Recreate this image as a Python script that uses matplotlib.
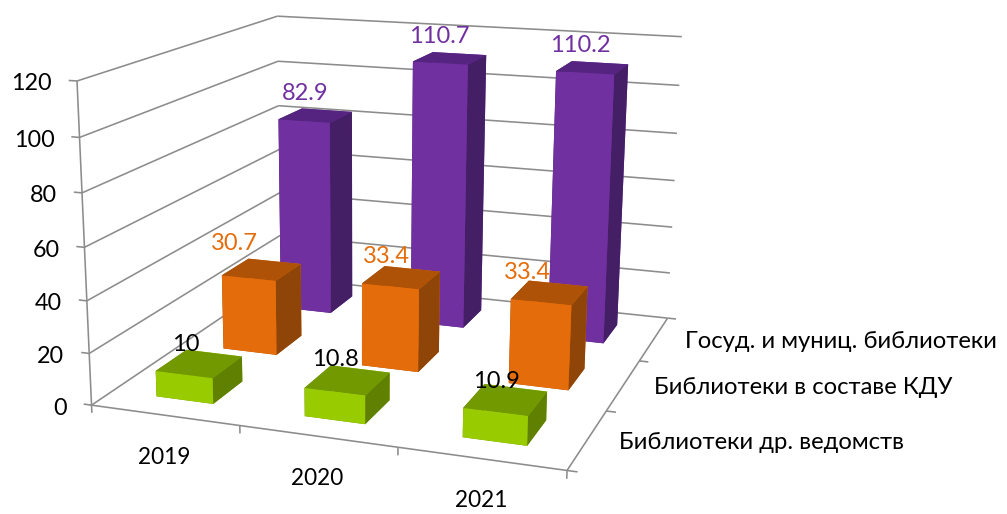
import numpy as np
import matplotlib
matplotlib.use('Agg')
import matplotlib.pyplot as plt
from mpl_toolkits.mplot3d.art3d import Line3DCollection

W, H = 1007, 514

years = ['2019', '2020', '2021']
series = ['Библиотеки др. ведомств', 'Библиотеки в составе КДУ', 'Госуд. и муниц. библиотеки']
values_other = [10, 10.8, 10.9]
values_kdu = [30.7, 33.4, 33.4]
values_gos = [82.9, 110.7, 110.2]
value_ticks = [0, 20, 40, 60, 80, 100, 120]
value_labels = ['10', '10.8', '10.9', '30.7', '33.4', '33.4', '82.9', '110.7', '110.2']

all_values = [values_other, values_kdu, values_gos]

# label colour and bar colours (front, top, side) per series
label_colors = ['black', '#E46C0A', '#7030A0']
bar_colors = [('#99CC00', '#739900', '#5F8000'),
              ('#E46C0A', '#AD5207', '#8F4507'),
              ('#7030A0', '#552480', '#451F66')]
grid_color = '#8C8C8C'

# Offsets of the value labels from the bar top, in pixels
label_shift = [[(-14, -19), (-12, -21), (-9, -18)],
               [(-27, -26), (-15, -21), (-22, -20)],
               [(-10, -22), (-11, -22), (-12, -22)]]

plt.rcParams['font.family'] = ['Lato', 'Noto Sans', 'DejaVu Sans']


# Fit the camera of the 3D chart from where its box sits in the picture
def fit_camera():
    box = np.array([[0, 0, 0], [3, 0, 0], [3, 3, 0], [0, 3, 0], [0, 0, 120], [0, 3, 120], [3, 3, 120],
                     [1, 0, 0], [2, 0, 0], [3, 1, 0], [3, 2, 0], [0, 0, 60]], dtype=float)
    pix = np.array([[92, 406], [567, 470], [667, 319], [281, 277], [77, 81], [277, 16], [682, 37],
                    [239, 426], [397, 447], [607, 411], [640, 360], [85, 247]], dtype=float)
    scale = np.diag([1 / 3, 1 / 3, 1 / 120, 1])
    rows = []
    for p, q in zip(box, pix):
        v = scale @ np.append(p, 1)
        rows.append(np.concatenate([v, np.zeros(4), -q[0] * v]))
        rows.append(np.concatenate([np.zeros(4), v, -q[1] * v]))
    _, _, vt = np.linalg.svd(np.array(rows))
    P = vt[-1].reshape(3, 4) @ scale
    if P[2, 3] < 0:
        P = -P
    return P / P[2, 3]


P = fit_camera()
M = np.vstack([P[0], P[1], [0, 0, 0, -1], P[2]])


def project(x, y, z):
    p = P @ np.array([x, y, z, 1.0])
    return p[0] / p[2], p[1] / p[2]


fig = plt.figure(figsize=(W / 100, H / 100), dpi=100)
side = W / H
ax = fig.add_axes([0, (1 - side) / 2, 1, side], projection='3d', computed_zorder=False)
ax.set_axis_off()
ax.get_proj = lambda: M
extra = (W - H) / 2
ax.viewLim.intervalx = (0, W)
ax.viewLim.intervaly = (H + extra, -extra)

# Walls, floor edges and ticks
segments = []
for v in value_ticks:
    segments.append([(0, 0, v), (0, 3, v)])
    segments.append([(0, 3, v), (3, 3, v)])
    segments.append([(-0.055, 0, v), (0, 0, v)])
segments.append([(0, 0, 0), (0, 0, 120)])
segments.append([(0, 0, 0), (3, 0, 0)])
segments.append([(3, 0, 0), (3, 3, 0)])
for i in range(4):
    segments.append([(i, 0, -3), (i, 0, 0)])
for j in range(4):
    segments.append([(3, j, 0), (3.06, j, 0)])
ax.add_collection3d(Line3DCollection(segments, colors=grid_color, linewidths=1.15, zorder=1), autolim=False)

# Bars, back row first so the front rows cover it
bar_w = 0.39
bar_d = 0.44
for j in [2, 1, 0]:
    front, top, right = bar_colors[j]
    for i in range(3):
        ax.bar3d(i + 0.5 - bar_w / 2, j + 0.5 - bar_d / 2, 0, bar_w, bar_d, all_values[j][i],
                 color=[top, top, front, front, right, right], shade=False, zorder=3, linewidth=0)

# Value labels
n = 0
for j in range(3):
    for i in range(3):
        px, py = project(i + 0.5, j + 0.5, all_values[j][i])
        dx, dy = label_shift[j][i]
        ax.text2D(px + dx, py + dy, value_labels[n], transform=ax.transData, color=label_colors[j],
                  fontsize=17, ha='center', va='center', zorder=5)
        n += 1

# Axis labels
for v in value_ticks:
    px, py = project(0, 0, v)
    ax.text2D(px - 25, py + 3, str(v), transform=ax.transData, fontsize=16.8, ha='right', va='center')
for i, y in enumerate(years):
    px, py = project(i + 0.5, 0, 0)
    ax.text2D(px, py + 42, y, transform=ax.transData, fontsize=16.3, ha='center', va='center')
for j, s in enumerate(series):
    px, py = project(3, j + 0.5, 0)
    ax.text2D(px + 31, py + 3, s, transform=ax.transData, fontsize=17.2, ha='left', va='center')

fig.savefig('out.png', dpi=100)
